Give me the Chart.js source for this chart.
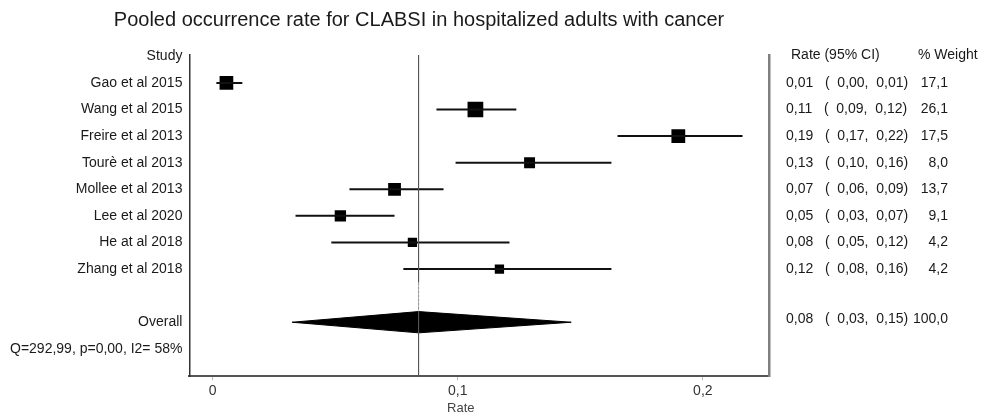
<!DOCTYPE html>
<html>
<head>
<meta charset="utf-8">
<script src="https://cdn.jsdelivr.net/npm/chart.js@4.4.1/dist/chart.umd.min.js"></script>
<style>
  html, body { margin: 0; padding: 0; background: #fff; }
  #wrap { width: 982px; height: 416px; }
</style>
</head>
<body>
<div id="wrap"><canvas id="forest"></canvas></div>
<script>
// forest plot: pooled CLABSI occurrence rate
const chartTitle = 'Pooled occurrence rate for CLABSI in hospitalized adults with cancer';
const studies = ['Gao et al 2015', 'Wang et al 2015', 'Freire et al 2013', 'Tourè et al 2013',
  'Mollee et al 2013', 'Lee et al 2020', 'He at al 2018', 'Zhang et al 2018'];
const rate   = [0.0056, 0.1072, 0.1900, 0.1293, 0.0742, 0.0521, 0.0815, 0.1170];
const ciLow  = [0.0015, 0.0913, 0.1652, 0.0991, 0.0558, 0.0338, 0.0484, 0.0778];
const ciHigh = [0.0121, 0.1239, 0.2162, 0.1627, 0.0942, 0.0742, 0.1211, 0.1627];
const weight = [17.1, 26.1, 17.5, 8.0, 13.7, 9.1, 4.2, 4.2];
const overallRate = 0.084, overallLow = 0.0324, overallHigh = 0.1463, overallWeight = 100.0;
const heterogeneity = 'Q=292,99, p=0,00, I2= 58%';
const xTicks = [0, 0.1, 0.2];

// row layout (0 = header)
const studyRows = studies.map((s, i) => i + 1);
const overallRow = 10, hetRow = 11;
const rowLabels = { 0: 'Study', 10: 'Overall', 11: heterogeneity };
studies.forEach((s, i) => rowLabels[studyRows[i]] = s);
const yMin = -0.05, yMax = 12.03;

const FONT = '"Liberation Sans", Arial, sans-serif';
const comma = (v, d) => v.toFixed(d).replace('.', ',');

const ciSets = studies.map((s, i) => ({
  type: 'scatter', showLine: true,
  data: [{ x: ciLow[i], y: studyRows[i] }, { x: ciHigh[i], y: studyRows[i] }],
  borderColor: '#111', borderWidth: 2, pointRadius: 0
}));

const squareSet = {
  type: 'scatter',
  data: studies.map((s, i) => ({ x: rate[i], y: studyRows[i] })),
  pointStyle: 'rect',
  pointRadius: weight.map(w => (5 + 2.1 * Math.sqrt(w)) / Math.SQRT2),
  backgroundColor: '#000', borderWidth: 0
};

const half = 0.4;
const diamondSet = {
  type: 'scatter', showLine: true, fill: 'shape',
  data: [{ x: overallLow, y: overallRow }, { x: overallRate, y: overallRow - half },
         { x: overallHigh, y: overallRow }, { x: overallRate, y: overallRow + half },
         { x: overallLow, y: overallRow }],
  borderColor: '#000', backgroundColor: '#000', borderWidth: 1, pointRadius: 0, tension: 0
};

// reference line at pooled estimate; lighter dotted stretch between last study and diamond
const refLine = {
  type: 'scatter', showLine: true,
  data: [{ x: overallRate, y: yMin }, { x: overallRate, y: studyRows[studyRows.length - 1] + 0.5 },
         { x: overallRate, y: overallRow - half }, { x: overallRate, y: yMax }],
  borderColor: '#555', borderWidth: 1, pointRadius: 0,
  segment: {
    borderDash: c => c.p0DataIndex === 1 ? [2, 2] : undefined,
    borderColor: c => c.p0DataIndex === 1 ? '#999' : undefined
  }
};

const textPlugin = {
  id: 'forestText',
  afterDraw(chart) {
    const { ctx, chartArea, scales: { x, y } } = chart;
    ctx.save();
    ctx.fillStyle = '#1a1a1a';
    ctx.textBaseline = 'middle';
    ctx.font = '20px ' + FONT;
    ctx.textAlign = 'center';
    ctx.fillText(chartTitle, 419, 20);

    ctx.font = '14px ' + FONT;
    const cx = chartArea.right + 17, wx = chartArea.right + 179;
    const y0 = y.getPixelForValue(0) - 1;
    ctx.textAlign = 'left';
    ctx.fillText('Rate (95% CI)', cx + 5, y0);
    ctx.fillText('% Weight', chartArea.right + 149, y0);

    const row = (r, lo, hi, w, py) => {
      ctx.textAlign = 'left';
      ctx.fillText(comma(r, 2) + '   (  ' + comma(lo, 2) + ',  ' + comma(hi, 2) + ')', cx, py);
      ctx.textAlign = 'right';
      ctx.fillText(comma(w, 1), wx, py);
    };
    studies.forEach((s, i) => row(rate[i], ciLow[i], ciHigh[i], weight[i], y.getPixelForValue(studyRows[i])));
    row(overallRate, overallLow, overallHigh, overallWeight, y.getPixelForValue(overallRow) - 3);

    ctx.font = '13px ' + FONT;
    ctx.fillStyle = '#444';
    ctx.textAlign = 'center';
    ctx.fillText('Rate', x.getPixelForValue(0.1) + 3, 408);
    ctx.restore();
  }
};

new Chart(document.getElementById('forest'), {
  type: 'scatter',
  data: { datasets: [refLine, ...ciSets, squareSet, diamondSet] },
  options: {
    responsive: true, maintainAspectRatio: false, animation: false,
    layout: { padding: { left: 3, right: 213, top: 55, bottom: 13 } },
    plugins: { legend: { display: false }, tooltip: { enabled: false }, title: { display: false } },
    scales: {
      x: {
        type: 'linear', min: -0.0095, max: 0.227,
        afterBuildTicks: axis => { axis.ticks = xTicks.map(v => ({ value: v })); },
        grid: { display: true, drawOnChartArea: false, drawTicks: true, tickLength: 4, color: '#bbb' },
        border: { display: true, color: '#555', width: 2 },
        ticks: { padding: 3, color: '#333', font: { family: FONT, size: 14 },
                 callback: v => v === 0 ? '0' : comma(v, 1) }
      },
      y: {
        type: 'linear', reverse: true, min: yMin, max: yMax, position: 'left',
        afterBuildTicks: axis => { axis.ticks = Object.keys(rowLabels).map(k => ({ value: +k })); },
        grid: { display: false, drawTicks: false },
        border: { display: true, color: '#333', width: 1.5 },
        ticks: { autoSkip: false, padding: 7, color: '#1a1a1a', font: { family: FONT, size: 14 },
                 callback: v => rowLabels[v] }
      },
      y2: {
        type: 'linear', reverse: true, min: yMin, max: yMax, position: 'right',
        grid: { display: false, drawTicks: false },
        border: { display: true, color: '#808080', width: 2.5 },
        ticks: { display: false }
      }
    }
  },
  plugins: [textPlugin]
});
</script>
</body>
</html>
